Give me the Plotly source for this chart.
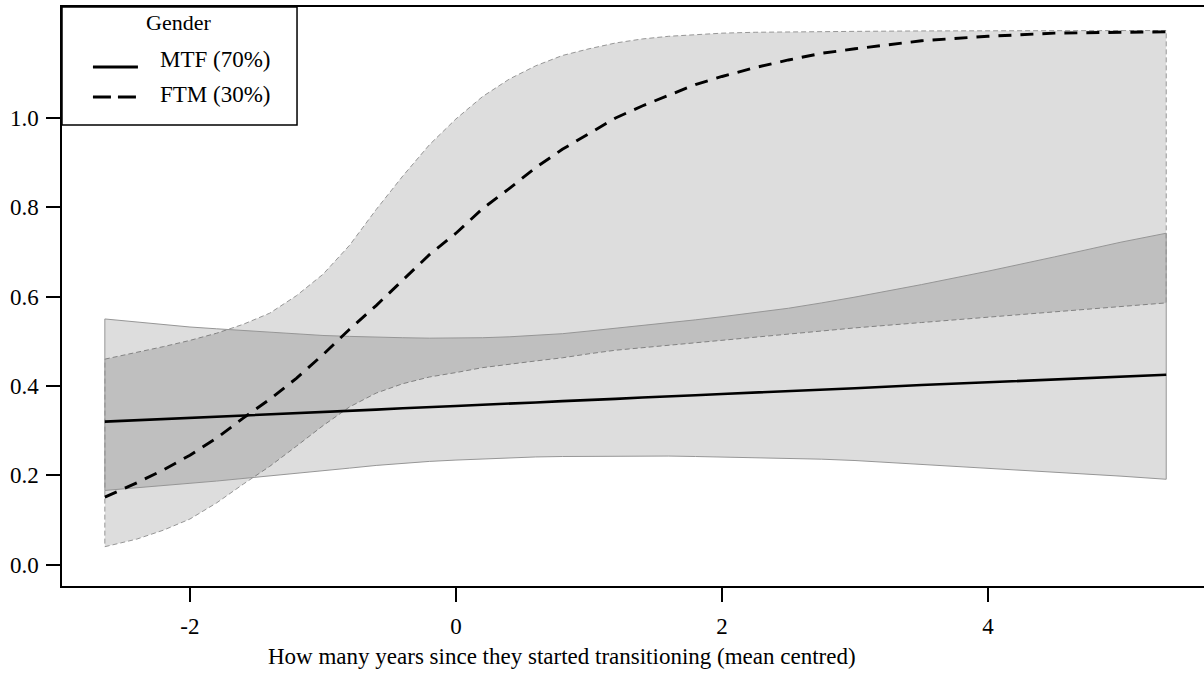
import plotly.graph_objects as go

# ---- data ----
years = [-2.64, -2.4, -2.2, -2.0, -1.8, -1.6, -1.4, -1.2, -1.0, -0.8, -0.6, -0.4, -0.2,
         0.0, 0.2, 0.4, 0.6, 0.8, 1.0, 1.2, 1.4, 1.6, 1.8, 2.0, 2.25, 2.5, 2.75, 3.0,
         3.5, 4.0, 4.5, 5.0, 5.34]

mtf_fit = [0.320, 0.323, 0.326, 0.328, 0.331, 0.334, 0.336, 0.339, 0.342, 0.344, 0.347,
           0.350, 0.352, 0.355, 0.358, 0.360, 0.363, 0.366, 0.368, 0.371, 0.374, 0.376,
           0.379, 0.382, 0.385, 0.388, 0.392, 0.395, 0.402, 0.408, 0.415, 0.421, 0.425]
mtf_upper = [0.550, 0.543, 0.537, 0.532, 0.528, 0.524, 0.520, 0.516, 0.513, 0.511, 0.509,
             0.508, 0.507, 0.507, 0.508, 0.510, 0.513, 0.517, 0.523, 0.529, 0.535, 0.541,
             0.548, 0.555, 0.564, 0.574, 0.586, 0.599, 0.627, 0.657, 0.689, 0.722, 0.742]
mtf_lower = [0.166, 0.172, 0.177, 0.182, 0.187, 0.192, 0.198, 0.204, 0.210, 0.216, 0.222,
             0.227, 0.231, 0.234, 0.237, 0.239, 0.241, 0.242, 0.243, 0.243, 0.243, 0.243,
             0.242, 0.241, 0.240, 0.238, 0.236, 0.233, 0.224, 0.216, 0.207, 0.198, 0.191]

ftm_fit = [0.151, 0.183, 0.212, 0.245, 0.283, 0.328, 0.370, 0.417, 0.470, 0.527, 0.580,
           0.638, 0.694, 0.742, 0.797, 0.842, 0.889, 0.930, 0.965, 1.000, 1.027, 1.051,
           1.075, 1.093, 1.113, 1.130, 1.145, 1.155, 1.173, 1.183, 1.190, 1.192, 1.193]
ftm_upper = [0.460, 0.475, 0.488, 0.502, 0.518, 0.538, 0.563, 0.602, 0.650, 0.715, 0.795,
             0.870, 0.940, 0.998, 1.048, 1.087, 1.117, 1.140, 1.155, 1.168, 1.177, 1.183,
             1.187, 1.190, 1.192, 1.193, 1.194, 1.194, 1.195, 1.195, 1.196, 1.196, 1.196]
ftm_lower = [0.040, 0.057, 0.077, 0.102, 0.138, 0.180, 0.220, 0.265, 0.311, 0.353, 0.384,
             0.405, 0.420, 0.430, 0.441, 0.449, 0.456, 0.463, 0.472, 0.480, 0.486, 0.492,
             0.497, 0.503, 0.510, 0.517, 0.523, 0.530, 0.542, 0.555, 0.567, 0.578, 0.586]

x_ticks = [-2, 0, 2, 4]
x_tick_labels = ["-2", "0", "2", "4"]
y_ticks = [0.0, 0.2, 0.4, 0.6, 0.8, 1.0]
y_tick_labels = ["0.0", "0.2", "0.4", "0.6", "0.8", "1.0"]

legend_title = "Gender"
series_names = ["MTF (70%)", "FTM (30%)"]
x_title = "How many years since they started transitioning (mean centred)"

FONT = "Liberation Serif"
FS = 23
BAND = "rgba(0,0,0,0.135)"


def band(x, up, lo, dash):
    xs = list(x) + list(x[::-1]) + [x[0]]
    ys = list(up) + list(lo[::-1]) + [up[0]]
    return go.Scatter(x=xs, y=ys, mode="lines", fill="toself", fillcolor=BAND,
                      line=dict(color="rgb(150,150,150)", width=1, dash=dash),
                      hoverinfo="skip", showlegend=False)


fig = go.Figure()
fig.add_trace(band(years, ftm_upper, ftm_lower, "5px,3px"))
fig.add_trace(band(years, mtf_upper, mtf_lower, "solid"))
fig.add_trace(go.Scatter(x=years, y=mtf_fit, mode="lines", name=series_names[0],
                         line=dict(color="black", width=2.6), showlegend=False))
fig.add_trace(go.Scatter(x=years, y=ftm_fit, mode="lines", name=series_names[1],
                         line=dict(color="black", width=2.9, dash="13px,9px"),
                         showlegend=False))

# legend box drawn in paper coordinates
shapes = [
    dict(type="rect", xref="paper", yref="paper", x0=0, x1=0.2058, y0=0.796, y1=1,
         line=dict(color="black", width=1.5), fillcolor="white", layer="above"),
    dict(type="line", xref="paper", yref="paper", x0=0.0271, x1=0.0665, y0=0.8964,
         y1=0.8964, line=dict(color="black", width=2.8), layer="above"),
    dict(type="line", xref="paper", yref="paper", x0=0.0271, x1=0.0665, y0=0.8446,
         y1=0.8446, line=dict(color="black", width=2.9, dash="18px,7px"), layer="above"),
]
annotations = [
    dict(text=legend_title, xref="paper", yref="paper", x=0.1016, y=0.9724,
         xanchor="center", yanchor="middle", showarrow=False,
         font=dict(family=FONT, size=FS - 1, color="black")),
    dict(text=series_names[0], xref="paper", yref="paper", x=0.084, y=0.9085,
         xanchor="left", yanchor="middle", showarrow=False,
         font=dict(family=FONT, size=FS, color="black")),
    dict(text=series_names[1], xref="paper", yref="paper", x=0.084, y=0.8497,
         xanchor="left", yanchor="middle", showarrow=False,
         font=dict(family=FONT, size=FS, color="black")),
    # x-axis title (offset left of the plot centre, as in the reference)
    dict(text=x_title, xref="paper", yref="paper", x=0.4378, y=-0.1226,
         xanchor="center", yanchor="middle", showarrow=False,
         font=dict(family=FONT, size=FS, color="black")),
]

fig.update_layout(
    width=1204, height=673, autosize=False,
    margin=dict(l=62, r=0, t=7, b=87),
    paper_bgcolor="white", plot_bgcolor="white",
    font=dict(family=FONT, size=FS, color="black"),
    shapes=shapes, annotations=annotations,
    showlegend=False,
    xaxis=dict(range=[-2.962, 5.624], tickvals=x_ticks, ticktext=x_tick_labels,
               ticks="outside", ticklen=14, tickwidth=1.5, tickcolor="black",
               showline=True, linecolor="black", linewidth=1.5, mirror=True,
               showgrid=False, zeroline=False, ticklabelstandoff=5,
               tickfont=dict(family=FONT, size=FS), automargin=False),
    yaxis=dict(range=[-0.048, 1.2486], tickvals=y_ticks, ticktext=y_tick_labels,
               ticks="outside", ticklen=14, tickwidth=1.5, tickcolor="black",
               showline=True, linecolor="black", linewidth=1.5, mirror=True,
               showgrid=False, zeroline=False, ticklabelstandoff=3,
               tickfont=dict(family=FONT, size=FS), automargin=False),
)

fig.write_html("out.html", config={"displayModeBar": False},
               post_script="document.body.style.margin='0';")
